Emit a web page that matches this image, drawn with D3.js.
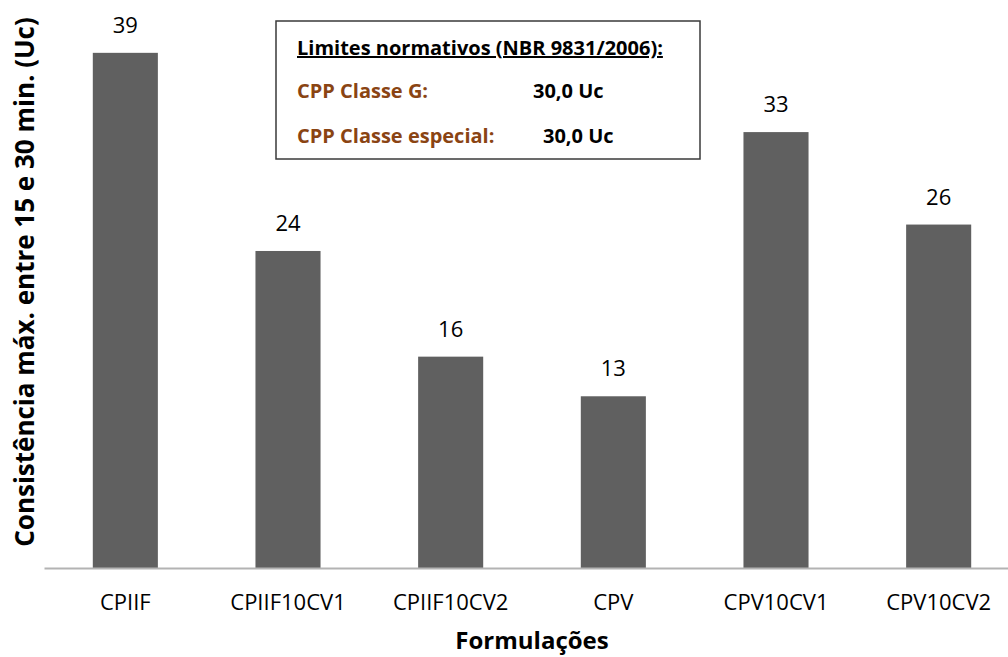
<!DOCTYPE html>
<html lang="pt">
<head>
  <meta charset="UTF-8">
  <title>Consistência máxima</title>
  <script src="https://d3js.org/d3.v7.min.js"></script>
  <style>
    body
    {
      margin: 0;
      background-color: #ffffff;
    }

    svg
    {
      font-family: "Open Sans", sans-serif;
      display: block;
    }
  </style>
</head>
<body>
  <svg width="1008" height="657"></svg>
  <script>
    const formulacoes = ["CPIIF", "CPIIF10CV1", "CPIIF10CV2", "CPV", "CPV10CV1", "CPV10CV2"];
    const consistencia = [39, 24, 16, 13, 33, 26];

    const legendTitle = "Limites normativos (NBR 9831/2006):";
    const limiteNomes = ["CPP Classe G:", "CPP Classe especial:"];
    const limiteValores = ["30,0 Uc", "30,0 Uc"];

    const width = 1008;
    const height = 657;
    const baseline = 568;

    const svg = d3.select("svg");

    const x = d3.scaleBand()
      .domain(formulacoes)
      .range([44, 1020])
      .paddingInner(0.6)
      .paddingOuter(0.3);

    const y = d3.scaleLinear()
      .domain([0, 43])
      .range([baseline, 0]);

    const data = formulacoes.map((f, i) => ({ name: f, value: consistencia[i] }));

    //bars
    svg.selectAll("rect.bar")
      .data(data)
      .join("rect")
      .attr("class", "bar")
      .attr("x", d => x(d.name))
      .attr("y", d => y(d.value))
      .attr("width", x.bandwidth())
      .attr("height", d => y(0) - y(d.value))
      .attr("fill", "#606060");

    //value labels
    svg.selectAll("text.val")
      .data(data)
      .join("text")
      .attr("class", "val")
      .attr("x", d => x(d.name) + x.bandwidth() / 2)
      .attr("y", d => y(d.value) - 20)
      .attr("text-anchor", "middle")
      .style("font-size", "22px")
      .attr("fill", "#000")
      .text(d => d.value);

    //x axis
    const xAxis = svg.append("g")
      .attr("transform", `translate(0,${baseline})`)
      .call(d3.axisBottom(x).tickSize(0).tickPadding(0));

    xAxis.select(".domain")
      .attr("stroke", "#b3b3b3")
      .attr("stroke-width", 2);

    xAxis.selectAll("text")
      .attr("dy", null)
      .attr("y", 42)
      .style("font-family", "'Open Sans', sans-serif")
      .style("font-size", "22px")
      .attr("fill", "#000");

    //axis titles
    svg.append("text")
      .attr("x", (44 + 1020) / 2)
      .attr("y", 649)
      .attr("text-anchor", "middle")
      .style("font-size", "24px")
      .style("font-weight", "bold")
      .text("Formulações");

    svg.append("text")
      .attr("transform", "translate(34,282) rotate(-90)")
      .attr("text-anchor", "middle")
      .style("font-size", "26px")
      .style("font-weight", "bold")
      .text("Consistência máx. entre 15 e 30 min. (Uc)");

    //legend box
    const legend = svg.append("g");

    legend.append("rect")
      .attr("x", 276)
      .attr("y", 21)
      .attr("width", 424)
      .attr("height", 138)
      .attr("fill", "#fff")
      .attr("stroke", "#3a3a3a")
      .attr("stroke-width", 1.5);

    legend.append("text")
      .attr("x", 297)
      .attr("y", 55)
      .style("font-size", "20px")
      .style("font-weight", "bold")
      .style("text-decoration", "underline")
      .text(legendTitle);

    const valX = [533, 543];
    limiteNomes.forEach((nome, i) => {
      legend.append("text")
        .attr("x", 297)
        .attr("y", 98 + i * 45)
        .style("font-size", "20px")
        .style("font-weight", "bold")
        .attr("fill", "#8a4413")
        .text(nome);

      legend.append("text")
        .attr("x", valX[i])
        .attr("y", 98 + i * 45)
        .style("font-size", "20px")
        .style("font-weight", "bold")
        .attr("fill", "#000")
        .text(limiteValores[i]);
    });
  </script>
</body>
</html>
